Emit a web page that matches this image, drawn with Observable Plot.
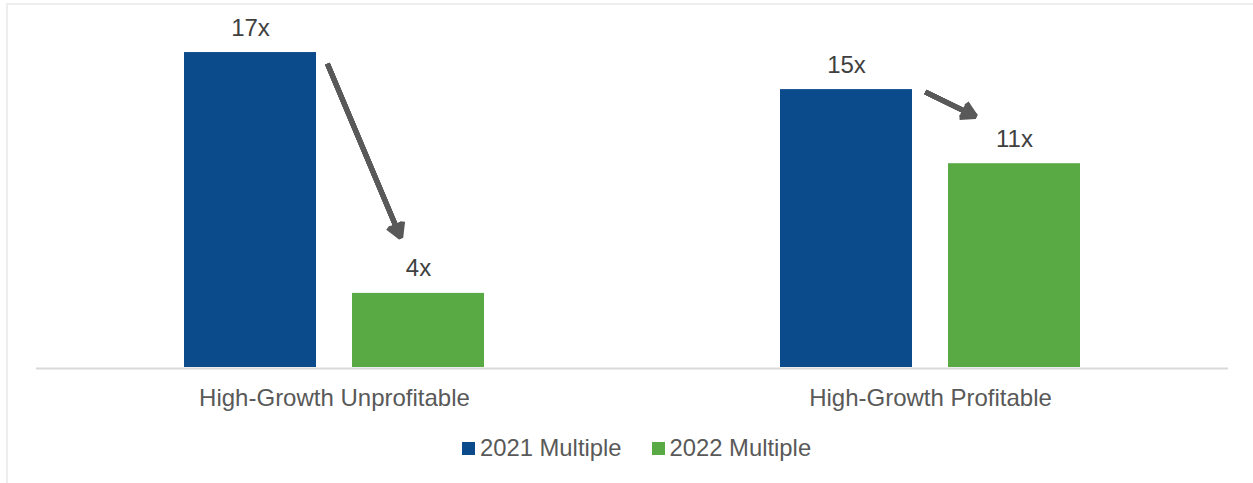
<!DOCTYPE html>
<html>
<head>
<meta charset="utf-8">
<script src="https://cdn.jsdelivr.net/npm/d3@7"></script>
<script src="https://cdn.jsdelivr.net/npm/@observablehq/plot@0.6"></script>
<style>
  html, body { margin: 0; padding: 0; background: #fff; }
  body { width: 1253px; height: 483px; position: relative; overflow: hidden;
         font-family: "Liberation Sans", Arial, sans-serif; }
  #frame { position: absolute; left: 6px; top: 3px; width: 1400px; height: 600px;
           border-left: 2px solid #eeeeee; border-top: 2px solid #eeeeee; }
  #chart { position: absolute; left: 0; top: 0; }
  #legend { position: absolute; left: 462px; top: 436px; display: flex; gap: 30px;
            font-size: 23.8px; line-height: 24px; color: #595959; }
  #legend .item { display: inline-flex; align-items: center; }
  #legend .sw { width: 13px; height: 13px; margin-right: 5px; display: inline-block; }
</style>
</head>
<body>
<div id="frame"></div>
<div id="chart"></div>
<div id="legend"></div>
<script>
// ---- data ----
const categories = ["High-Growth Unprofitable", "High-Growth Profitable"];
const seriesNames = ["2021 Multiple", "2022 Multiple"];
const values2021 = [17, 15];
const values2022 = [4, 11];
const seriesColors = ["#0B4A8B", "#59A945"];
// arrow annotations (value units along the line through both bars' centres)
const arrowCategory = ["High-Growth Unprofitable", "High-Growth Profitable"];
const arrowFrom = [26.24, 16.95];
const arrowTo = [4.73, 12.53];

const rows = [];
categories.forEach((c, i) => {
  rows.push({category: c, series: seriesNames[0], value: values2021[i]});
  rows.push({category: c, series: seriesNames[1], value: values2022[i]});
});
const arrows = arrowCategory.map((c, i) => ({
  category: c, fromSeries: seriesNames[0], toSeries: seriesNames[1], from: arrowFrom[i], to: arrowTo[i]
}));

// style: shaft + a stack of wings that fills the arrowhead like a solid triangle
const arrowInsets = [[198, 46], [87.7, 43.3]];
const headAngles = [60, 48, 36, 24, 12];
const arrowMarks = [];
arrows.forEach((a, i) => {
  headAngles.forEach(ang => {
    const wing = 14 / Math.cos((ang / 2) * Math.PI / 180);
    arrowMarks.push(Plot.arrow([a], {
      fx: "category", x1: "fromSeries", x2: "toSeries", y1: "from", y2: "to",
      insetStart: arrowInsets[i][0], insetEnd: arrowInsets[i][1],
      stroke: "#595959", strokeWidth: 5, headAngle: ang, headLength: wing * 1.5 / 5,
      strokeLinejoin: "miter", strokeLinecap: "butt"
    }));
  });
});

const chart = Plot.plot({
  width: 1253,
  height: 420,
  marginLeft: 36,
  marginRight: 25,
  marginTop: 15,
  marginBottom: 53,
  style: {fontFamily: "'Liberation Sans', Arial, sans-serif", fontSize: "24px", background: "transparent"},
  fx: {domain: categories, padding: 0, axis: "bottom", label: null, tickSize: 0, tickPadding: 21},
  x: {domain: seriesNames, paddingInner: 0.213, paddingOuter: 0.87, axis: null},
  y: {domain: [0, 19], axis: null},
  color: {domain: seriesNames, range: seriesColors},
  marks: [
    Plot.ruleY([0], {stroke: "#d9d9d9", strokeWidth: 2, dy: 1}),
    Plot.barY(rows, {fx: "category", x: "series", y: "value", fill: "series"}),
    Plot.text(rows, {fx: "category", x: "series", y: "value", text: d => `${Math.round(d.value)}x`,
      lineAnchor: "bottom", dy: -17, fill: "#404040", fontSize: 24}),
    ...arrowMarks
  ]
});
chart.querySelectorAll('[aria-label="fx-axis tick label"] text, g[aria-label="fx-axis tick label"]').forEach(el => el.setAttribute("fill", "#595959"));
document.getElementById("chart").appendChild(chart);

const legend = document.getElementById("legend");
seriesNames.forEach((s, i) => {
  const item = document.createElement("span");
  item.className = "item";
  const sw = document.createElement("span");
  sw.className = "sw";
  sw.style.background = seriesColors[i];
  item.appendChild(sw);
  item.appendChild(document.createTextNode(s));
  legend.appendChild(item);
});
</script>
</body>
</html>
